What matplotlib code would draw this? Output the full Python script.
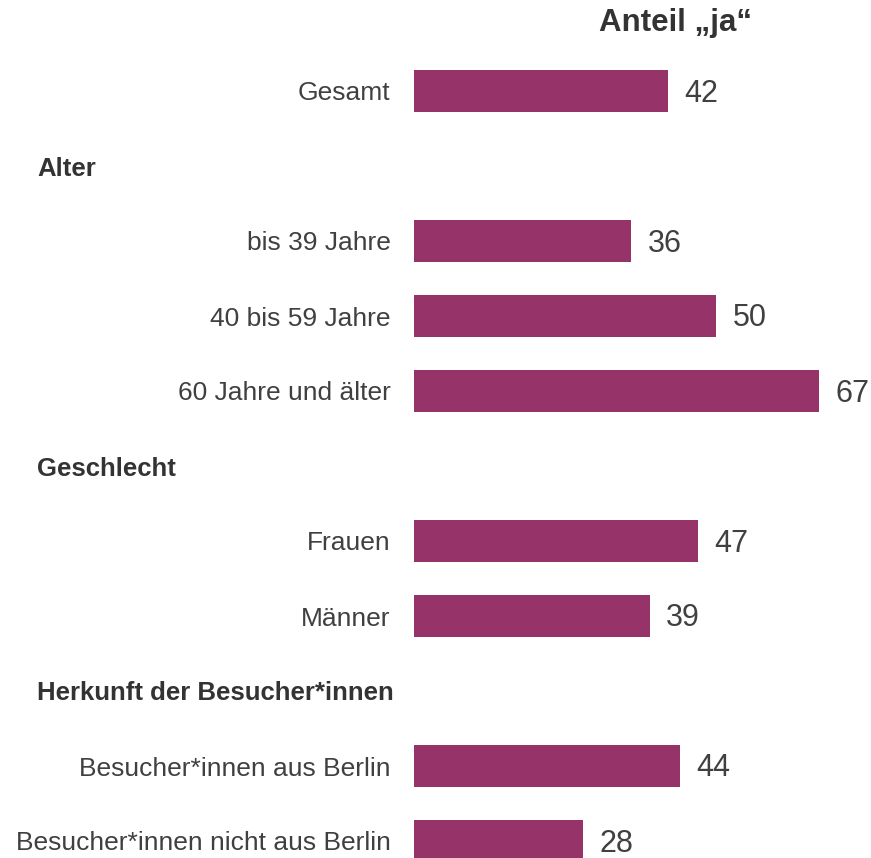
"""Horizontal bar chart: Anteil "ja" by group."""

import matplotlib
matplotlib.use('Agg')
import matplotlib.pyplot as plt

plt.rcParams['font.family'] = ['Liberation Sans', 'DejaVu Sans']

# Rows from top to bottom; None = section header without bar
labels = ['Gesamt', 'Alter', 'bis 39 Jahre', '40 bis 59 Jahre', '60 Jahre und älter',
          'Geschlecht', 'Frauen', 'Männer', 'Herkunft der Besucher*innen',
          'Besucher*innen aus Berlin', 'Besucher*innen nicht aus Berlin']
values = [42, None, 36, 50, 67, None, 47, 39, None, 44, 28]

BAR_COLOR = '#963368'
TEXT_COLOR = '#404040'

W, H = 871, 858
fig = plt.figure(figsize=(W / 100, H / 100), dpi=100)
fig.patch.set_facecolor('white')

# Axes placed in pixel terms: bars start at x=414, rows 75 px apart, first centre y=91
left, ax_w = 414, 453
top = 91 - 37.5
ax_h = 75 * len(labels)
ax = fig.add_axes([left / W, (H - top - ax_h) / H, ax_w / W, ax_h / H])
ax.set_xlim(0, 75)
ax.set_ylim(len(labels) - 0.5, -0.5)
ax.axis('off')

dy = -1.8  # small downward nudge of text, in points

for i, (lab, val) in enumerate(zip(labels, values)):
    if val is None:
        # section header, left aligned at x=37 px
        ax.annotate(lab, xy=(0, i), xycoords=('figure fraction', 'data'),
                    xytext=(37 * 0.72, dy), textcoords='offset points',
                    fontsize=18.5, fontweight='bold', color='#333333',
                    ha='left', va='center')
        continue
    ax.barh(i, val, height=0.56, color=BAR_COLOR, edgecolor='none')
    ax.annotate(str(val), xy=(val, i), xytext=(12, dy), textcoords='offset points',
                fontsize=22, color=TEXT_COLOR, ha='left', va='center')
    ax.annotate(lab, xy=(0, i), xytext=(-17, dy), textcoords='offset points',
                fontsize=19, color=TEXT_COLOR, ha='right', va='center')

fig.text(675 / W, 1 - 23 / H, 'Anteil \u201eja\u201c', fontsize=22.5, fontweight='bold',
         color='#333333', ha='center', va='center')

fig.savefig('out.png', dpi=100, facecolor='white')
